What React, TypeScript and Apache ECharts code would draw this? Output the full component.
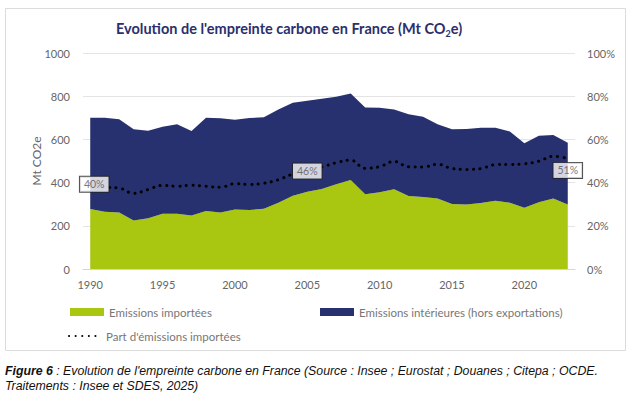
import React, { useEffect, useRef } from "react";
import * as echarts from "echarts";

const years = [
  "1990", "1991", "1992", "1993", "1994", "1995", "1996", "1997", "1998", "1999",
  "2000", "2001", "2002", "2003", "2004", "2005", "2006", "2007", "2008", "2009",
  "2010", "2011", "2012", "2013", "2014", "2015", "2016", "2017", "2018", "2019",
  "2020", "2021", "2022", "2023",
];

// Mt CO2e
const imported = [
  278, 265, 261, 224, 235, 256, 256, 248, 268, 262,
  275, 273, 279, 307, 339, 358, 370, 392, 412, 346,
  355, 369, 338, 333, 326, 301, 299, 305, 316, 307,
  284, 309, 326, 299,
];

const domestic = [
  422, 435, 432, 423, 405, 403, 414, 391, 432, 436,
  416, 426, 423, 432, 431, 421, 418, 405, 401, 402,
  392, 370, 378, 372, 344, 346, 349, 349, 338, 329,
  298, 308, 294, 286,
];

// %
const share = [
  39.7, 37.9, 37.5, 35.0, 36.8, 38.7, 38.3, 38.8, 38.3, 37.8,
  39.5, 39.1, 39.7, 41.3, 44.0, 45.8, 47.2, 49.2, 50.4, 46.6,
  47.4, 49.8, 47.3, 47.2, 48.5, 46.5, 46.1, 46.5, 48.3, 48.4,
  48.7, 49.9, 52.2, 51.2,
];

const labelledYears = ["1990", "2005", "2023"];
const labelOffsets = [[4, 1], [0, 1], [0, 12]];

const leftTicks = ["0", "200", "400", "600", "800", "1000"];

const NAME_IMP = "Emissions importées";
const NAME_DOM = "Emissions intérieures (hors exportations)";
const NAME_SHARE = "Part d'émissions importées";

const CAPTION_LINE1 = " : Evolution de l'empreinte carbone en France (Source : Insee ; Eurostat ; Douanes ; Citepa ; OCDE.";
const CAPTION_LINE2 = "Traitements : Insee et SDES, 2025)";

const GREEN = "#a9c610";
const NAVY = "#28316f";
const FONT = "Lato, 'Open Sans', sans-serif";
const CAPTION_FONT = "'Liberation Sans', Arial, sans-serif";

export default function App() {
  const ref = useRef<HTMLDivElement>(null);

  useEffect(() => {
    if (!ref.current) return;
    const chart = echarts.init(ref.current, null, { renderer: "svg" });

    const labelData = years.map((y, i) => {
      const k = labelledYears.indexOf(y);
      if (k < 0) return null;
      return { value: share[i], label: { show: true, offset: labelOffsets[k] } };
    });

    const legendText = { color: "#777", fontSize: 11.5, fontFamily: FONT };

    chart.setOption({
      animation: false,
      backgroundColor: "#ffffff",
      textStyle: { fontFamily: FONT },
      title: {
        text: "Evolution de l'empreinte carbone en France (Mt CO{sub|2}e)",
        left: 116,
        top: 18,
        padding: 0,
        textStyle: {
          fontFamily: FONT,
          fontSize: 14.5,
          fontWeight: "bold",
          color: "#2b2f6c",
          lineHeight: 20,
          rich: {
            sub: {
              fontSize: 9,
              fontWeight: "bold",
              color: "#2b2f6c",
              fontFamily: FONT,
              lineHeight: 9,
              verticalAlign: "bottom",
            },
          },
        },
      },
      grid: { left: 83, right: 56, top: 53, bottom: 126 },
      legend: [
        {
          data: [NAME_IMP],
          left: 70,
          top: 306,
          padding: 0,
          icon: "rect",
          itemWidth: 34,
          itemHeight: 8,
          textStyle: legendText,
        },
        {
          data: [NAME_DOM],
          left: 320,
          top: 306,
          padding: 0,
          icon: "rect",
          itemWidth: 34,
          itemHeight: 8,
          textStyle: legendText,
        },
        {
          data: [{ name: NAME_SHARE, itemStyle: { opacity: 0 } }],
          left: 68,
          top: 330,
          padding: 0,
          itemWidth: 32,
          itemHeight: 12,
          textStyle: legendText,
        },
      ],
      xAxis: {
        type: "category",
        data: years,
        boundaryGap: true,
        axisLine: { lineStyle: { color: "#d6d6d6" } },
        axisTick: { interval: 4, length: 5, lineStyle: { color: "#d6d6d6" } },
        axisLabel: { interval: 4, color: "#666", fontSize: 11, margin: 10, fontFamily: FONT },
      },
      yAxis: [
        {
          type: "value",
          min: 0,
          max: 1000,
          interval: 200,
          name: "Mt CO2e",
          nameLocation: "middle",
          nameGap: 41,
          nameMoveOverlap: false,
          nameTextStyle: { color: "#666", fontSize: 12, fontFamily: FONT },
          axisLine: { show: false },
          axisTick: { show: false },
          axisLabel: {
            color: "#666",
            fontSize: 11,
            margin: 13,
            fontFamily: FONT,
            formatter: (v: number) => leftTicks[Math.round(v / 200)] ?? String(v),
          },
          splitLine: { lineStyle: { color: "#e4e4e4" } },
        },
        {
          type: "value",
          min: 0,
          max: 100,
          interval: 20,
          position: "right",
          axisLine: { show: false },
          axisTick: { show: false },
          axisLabel: { color: "#666", fontSize: 11, margin: 12, fontFamily: FONT, formatter: "{value}%" },
          splitLine: { show: false },
        },
      ],
      series: [
        {
          name: NAME_IMP,
          type: "line",
          stack: "total",
          data: imported,
          symbol: "none",
          lineStyle: { width: 0, color: GREEN },
          itemStyle: { color: GREEN },
          areaStyle: { color: GREEN, opacity: 1 },
          z: 1,
        },
        {
          name: NAME_DOM,
          type: "line",
          stack: "total",
          data: domestic,
          symbol: "none",
          lineStyle: { width: 0, color: NAVY },
          itemStyle: { color: NAVY },
          areaStyle: { color: NAVY, opacity: 1 },
          z: 1,
        },
        {
          name: NAME_SHARE,
          type: "line",
          yAxisIndex: 1,
          data: share,
          symbol: "none",
          smooth: 0.4,
          itemStyle: { color: "#000" },
          lineStyle: { color: "#000", width: 3, type: [0.1, 6.5], cap: "round" },
          z: 3,
        },
        {
          name: "labels",
          type: "scatter",
          yAxisIndex: 1,
          data: labelData,
          symbolSize: 0,
          silent: true,
          z: 5,
          label: {
            show: false,
            position: "inside",
            formatter: (p: any) => Math.round(p.value) + "%",
            color: "#555",
            fontSize: 10.5,
            fontFamily: FONT,
            backgroundColor: "#fff",
            borderColor: "#222",
            borderWidth: 1,
            padding: [2, 4, 2, 4],
          },
        },
      ],
      graphic: [
        {
          type: "rect",
          shape: { x: 5.5, y: 8.5, width: 620, height: 342 },
          style: { fill: "none", stroke: "#dcdcdc", lineWidth: 1 },
          silent: true,
          z: -10,
        },
        {
          type: "text",
          left: 5,
          top: 363,
          style: {
            text: "{b|Figure 6}{i|" + CAPTION_LINE1 + "}\n{i|" + CAPTION_LINE2 + "}",
            fontFamily: CAPTION_FONT,
            fontSize: 12.3,
            fontStyle: "italic",
            fill: "#111",
            lineHeight: 15,
            rich: {
              b: { fontWeight: "bold", fontStyle: "italic", fontFamily: CAPTION_FONT, fontSize: 12.3, fill: "#111", lineHeight: 15 },
              i: { fontStyle: "italic", fontFamily: CAPTION_FONT, fontSize: 12.3, fill: "#111", lineHeight: 15 },
            },
          },
        },
      ],
    });

    return () => chart.dispose();
  }, []);

  return (
    <div
      ref={ref}
      style={{ position: "absolute", left: 0, top: 0, width: 631, height: 395, background: "#fff" }}
    />
  );
}
